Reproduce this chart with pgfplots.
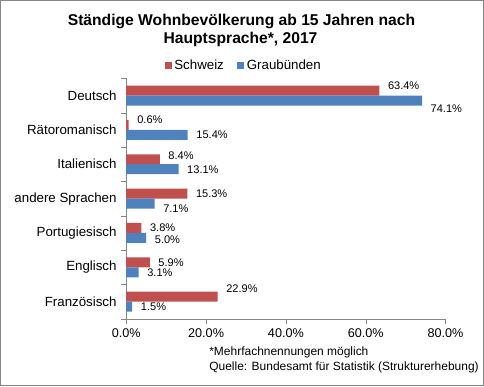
\documentclass[border=0pt]{standalone}
\usepackage{pgfplots}
\pgfplotsset{compat=1.18}
\usepackage{fontspec}
\setmainfont{Liberation Sans}
\definecolor{chred}{HTML}{C0504D}
\definecolor{chblue}{HTML}{4F81BD}
\definecolor{axgray}{HTML}{868686}
\pgfplotstableread{
y x dy
6 63.4 3.75
5 0.6 3.75
4 8.4 3
3 15.3 0
2 3.8 0
1 5.9 0
0 22.9 6
}\schweiz
\pgfplotstableread{
y x dy
6 74.1 -6
5 15.4 0
4 13.1 0
3 7.1 -3.75
2 5.0 -1.5
1 3.1 0
0 1.5 0
}\graub
\begin{document}
\begin{tikzpicture}
\draw[axgray, line width=0.75pt] (0,0) rectangle (363pt,289.5pt);
\node[font=\bfseries\fontsize{11.75}{14}\selectfont, anchor=base, inner sep=0pt] at (181.1pt,270.75pt) {Ständige Wohnbevölkerung ab 15 Jahren nach};
\node[font=\bfseries\fontsize{11.75}{14}\selectfont, anchor=base, inner sep=0pt] at (180.4pt,257.25pt) {Hauptsprache*, 2017};
\begin{axis}[
 at={(94.5pt,50.25pt)}, anchor=south west,
 scale only axis, width=240pt, height=180.75pt,
 xbar, bar width=7.5pt,
 xmin=0, xmax=80, ymin=-0.5, ymax=6.5,
 axis x line*=bottom, axis y line*=left,
 axis line style={axgray,-},
 xtick={0,20,40,60,80},
 xticklabel={\pgfmathprintnumber[fixed,fixed zerofill,precision=1,assume math mode=true]{\tick}\%},
 ytick={0,...,6},
 yticklabels={Französisch,Englisch,Portugiesisch,andere Sprachen,Italienisch,Rätoromanisch,Deutsch},
 minor ytick={-0.5,0.5,...,6.5},
 tick align=outside,
 tick style={axgray},
 major tick length=3.75pt,
 minor tick length=3.75pt,
 major y tick style={draw=none},
 xticklabel style={font=\fontsize{9.5}{11}\selectfont, black},
 yticklabel style={font=\fontsize{10}{12}\selectfont, black},
 point meta=x,
 visualization depends on={\thisrow{dy} \as \dy},
 nodes near coords={\pgfmathprintnumber[fixed,fixed zerofill,precision=1,assume math mode=true]{\pgfplotspointmeta}\%},
 nodes near coords style={font=\fontsize{8.3}{10}\selectfont, black, anchor=west, xshift=3pt, yshift=\dy pt},
 legend style={at={(0.369,1.054)}, anchor=center, draw=none, fill=none, legend columns=2,
   font=\fontsize{10}{12}\selectfont, inner sep=1pt,
   /tikz/every even column/.append style={column sep=8pt}},
 legend image code/.code={\fill[#1] (0pt,-2.6pt) rectangle (5.25pt,2.6pt);},
]
\addplot[fill=chred, draw=none, bar shift=3.75pt] table[x=x,y=y] {\schweiz};
\addlegendentry{Schweiz}
\addplot[fill=chblue, draw=none, bar shift=-3.75pt] table[x=x,y=y] {\graub};
\addlegendentry{Graubünden}
\end{axis}
\node[anchor=west, font=\fontsize{9}{11}\selectfont, inner sep=0pt] at (156.75pt,24.75pt) {*Mehrfachnennungen möglich};
\node[anchor=west, font=\fontsize{9}{11}\selectfont, inner sep=0pt] at (156.75pt,13.5pt) {Quelle: Bundesamt für Statistik (Strukturerhebung)};
\end{tikzpicture}
\end{document}
